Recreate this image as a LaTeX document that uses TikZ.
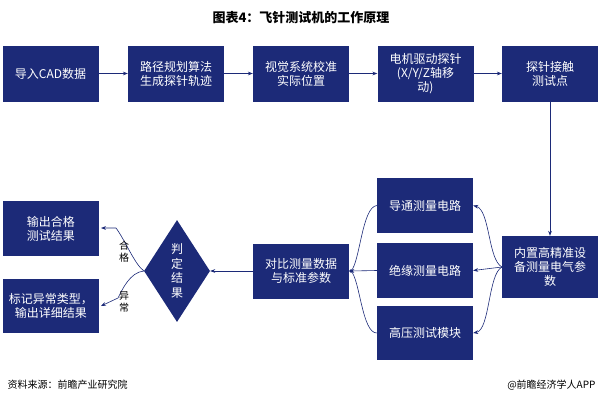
\documentclass[tikz,border=0pt]{standalone}
\usepackage{fontspec}
\setmainfont{Noto Sans CJK SC}
\usetikzlibrary{shapes.geometric,arrows.meta}
\definecolor{navy}{HTML}{1C2A78}
\begin{document}
\begin{tikzpicture}[x=1pt,y=-1pt,
 box/.style={fill=navy,text=white,minimum width=96pt,minimum height=56pt,inner sep=1pt,align=center,font=\fontsize{12}{14}\selectfont},
 arr/.style={draw=navy,-{Stealth[length=5pt]},line width=0.6pt},
 lab/.style={font=\fontsize{10}{12}\selectfont,align=center}]
\useasboundingbox (0,0) rectangle (603,405);
\node[font=\bfseries\fontsize{13}{15}\selectfont] (title) at (301,18) {图表4：飞针测试机的工作原理};
\node[box] (a1) at (50.5,73.5) {导入CAD数据};
\node[box] (a2) at (176,73.5) {路径规划算法\\生成探针轨迹};
\node[box] (a3) at (301,73.5) {视觉系统校准\\实际位置};
\node[box] (a4) at (425.5,73.5) {电机驱动探针\\(X/Y/Z轴移\\动)};
\node[box] (a5) at (550,73.5) {探针接触\\测试点};
\node[box,minimum height=62pt] (m) at (550,267) {内置高精准设\\备测量电气参\\数};
\node[box,minimum height=55pt] (c1) at (425,205.5) {导通测量电路};
\node[box,minimum height=55pt] (c2) at (425,270.5) {绝缘测量电路};
\node[box,minimum height=54pt] (c3) at (425,333) {高压测试模块};
\node[box,minimum height=55pt] (cmp) at (301,271) {对比测量数据\\与标准参数};
\node[diamond,fill=navy,text=white,minimum width=66pt,minimum height=102pt,inner sep=0pt,aspect=0.65,font=\fontsize{12}{14.5}\selectfont,align=center] (d) at (177,271) {判\\定\\结\\果};
\node[box,minimum height=55pt] (o1) at (51,228.5) {输出合格\\测试结果};
\node[box,minimum height=54pt] (o2) at (51,306) {标记异常类型，\\输出详细结果};
\draw[arr] (a1) -- (a2);
\draw[arr] (a2) -- (a3);
\draw[arr] (a3) -- (a4);
\draw[arr] (a4) -- (a5);
\draw[arr] (a5) -- (m);
\coordinate (mL) at (502,267);
\draw[arr] (mL) .. controls (488,260) and (490,210) .. (c1.east);
\draw[arr] (mL) -- (c2.east);
\draw[arr] (mL) .. controls (488,274) and (490,330) .. (c3.east);
\coordinate (cR) at (351,271);
\draw[navy,line width=0.6pt] (c1.west) .. controls (362,207) and (360,262) .. (cR);
\draw[navy,line width=0.6pt] (c2.west) -- (cR);
\draw[navy,line width=0.6pt] (c3.west) .. controls (362,333) and (360,280) .. (cR);
\fill[navy] (cR) circle (1.8pt);
\draw[arr] (cR) -- (cmp.east);
\draw[arr] (cmp.west) -- (d.east);
\coordinate (dL) at (144,271);
\draw[arr] (dL) .. controls (135,265) and (125,240) .. (116,228) -- (101,228);
\draw[arr] (dL) .. controls (130,272) and (122,290) .. (118,298) -- (101,306);
\node[lab] (l1) at (124,252) {合\\格};
\node[lab] (l2) at (124,302) {异\\常};
\node[font=\fontsize{10}{12}\selectfont,anchor=west] (src) at (4,385) {资料来源：前瞻产业研究院};
\node[font=\fontsize{10}{12}\selectfont,anchor=east] (app) at (599,385) {@前瞻经济学人APP};
\end{tikzpicture}
\end{document}
